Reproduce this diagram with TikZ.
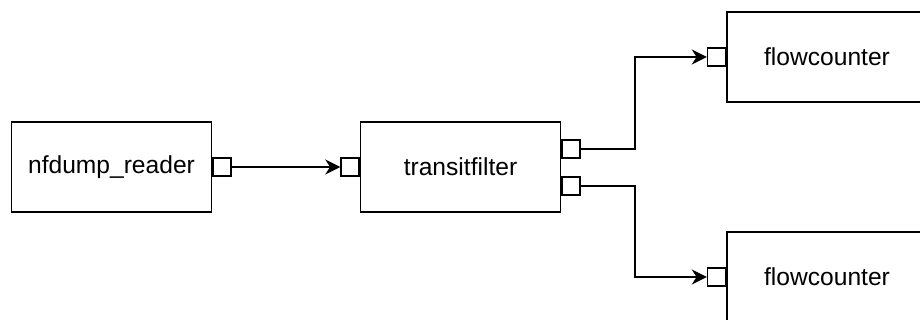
\documentclass[tikz,border=0pt]{standalone}
\usepackage{fontspec}
\setmainfont{Liberation Sans}
\usetikzlibrary{arrows.meta}

\begin{document}
\begin{tikzpicture}[x=0.5pt,y=-0.5pt,line width=0.75pt,
    block/.style={rectangle,draw,minimum width=100pt,minimum height=45pt,inner sep=0pt,
      font=\fontsize{12.3}{15}\selectfont},
    port/.style={rectangle,draw,fill=white,minimum size=9pt,inner sep=0pt},
    link/.style={-{Stealth[length=7.5pt,width=7.5pt,inset=2.4pt]}}]

\useasboundingbox (0,0) rectangle (920,320);
\clip (0,0) rectangle (920,320);

% Processing blocks
\node[block] (reader) at (111.5,167) {nfdump\_reader};
\node[block] (filter) at (460.5,167) {transitfilter};
\node[block] (countA) at (827,57) {flowcounter};
\node[block] (countB) at (827,277) {flowcounter};

% Ports on the block borders
\node[port,anchor=west] (readerOut) at (reader.east) {};
\node[port,anchor=east] (filterIn) at (filter.west) {};
\node[port,anchor=west] (filterOutA) at (filter.east |- 0,149) {};
\node[port,anchor=west] (filterOutB) at (filter.east |- 0,186) {};
\node[port,anchor=east] (countAIn) at (countA.west) {};
\node[port,anchor=east] (countBIn) at (countB.west) {};

% Links between ports
\draw[link] (readerOut) -- (filterIn);
\draw[link] (filterOutA.east) -- ++(54,0) |- (countAIn.west);
\draw[link] (filterOutB.east) -- ++(54,0) |- (countBIn.west);

\end{tikzpicture}
\end{document}
